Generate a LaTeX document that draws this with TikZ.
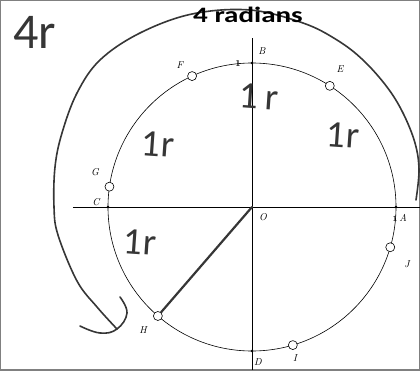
\documentclass[tikz,border=0pt]{standalone}
\usepackage{fontspec}
\newfontfamily\handfont{Carlito}
\usetikzlibrary{arrows.meta,positioning,calc}
\definecolor{pencil}{HTML}{363636}

\begin{document}
\begin{tikzpicture}[x=1pt, y=1pt,
  mark pt/.style={circle, draw, fill=white, inner sep=0pt, minimum size=9pt, line width=0.6pt},
  lbl/.style={font=\fontsize{10}{10}\selectfont\itshape, inner sep=0pt},
  hand/.style={font=\handfont\fontsize{38}{38}\selectfont, text=pencil, inner sep=0pt},
  pencil line/.style={draw=pencil, line width=1.6pt, line cap=round, line join=round}]
  \useasboundingbox (-252,-163) rectangle (168,207);
  \draw[gray, line width=1.5pt] (-252,-163) rectangle (168,207);

  % axes and unit circle
  \coordinate (O) at (0,0);
  \coordinate (xl) at (-179,0);
  \coordinate (xr) at (168,0);
  \coordinate (yt) at (0,169);
  \coordinate (yb) at (0,-163);
  \draw[line width=0.6pt] (xl) -- (xr);
  \draw[line width=0.6pt] (yt) -- (yb);
  \draw[line width=0.6pt] (O) circle[radius=144];
  \foreach \n/\a in {A/0,B/90,C/180,D/270}
    \fill (\a:144) circle (1.4pt) coordinate (\n);

  % points one radian apart
  \foreach \n/\a in {E/1,F/2,G/3,H/4,I/5,J/6}
    \node[mark pt] (\n) at ({\a*57.2958}:144) {};

  \node[lbl] (Alb) at (151,-11) {A};
  \node[lbl] (Blb) at (10,156) {B};
  \node[lbl] (Clb) at (-156,5) {C};
  \node[lbl] (Dlb) at (6,-155) {D};
  \node[lbl] (Elb) at (88,138) {E};
  \node[lbl] (Flb) at (-72,142) {F};
  \node[lbl] (Glb) at (-157,35) {G};
  \node[lbl] (Hlb) at (-109,-123) {H};
  \node[lbl] (Ilb) at (43,-151) {I};
  \node[lbl] (Jlb) at (155,-57) {J};
  \node[lbl] (Olb) at (11,-10) {O};
  \node[font=\small\bfseries, inner sep=0pt] (oneB) at (-14,143) {1};
  \node[font=\footnotesize\bfseries, inner sep=0pt] (oneA) at (143,-12) {1};

  % pencil marks
  \draw[pencil line, line width=2.2pt] (O) -- (H);
  \coordinate (tip) at (-135,-122);
  \draw[pencil line] plot[smooth, tension=0.6] coordinates {
    (164,7) (167,37) (163,64) (151,94) (135,120) (111,147) (85,167)
    (51,184) (-2,197) (-60,193) (-112,174) (-152,147) (-175,114)
    (-190,74) (-197,40) (-198,0) (-194,-28) (-175,-74) (-155,-100) (tip)};
  \draw[pencil line] plot[smooth, tension=0.7] coordinates {
    (-172,-119) (-152,-126) (tip) (-125,-106) (-132,-90)};

  \node[font=\handfont\bfseries\fontsize{22}{22}\selectfont, anchor=base]
    (title) at (-4,185) {\scalebox{1.32}[1]{4 radians}};
  \node[hand, font=\handfont\fontsize{50}{50}\selectfont] (fourr) at (-217,175) {4r};
  \node[hand, rotate=-4] (rBE) at (7,110) {1\,r};
  \node[hand, rotate=-4] (rEA) at (91,72) {1r};
  \node[hand, rotate=-4] (rFG) at (-94,63) {1r};
  \node[hand, rotate=-4] (rGH) at (-112,-35) {1r};
\end{tikzpicture}
\end{document}
